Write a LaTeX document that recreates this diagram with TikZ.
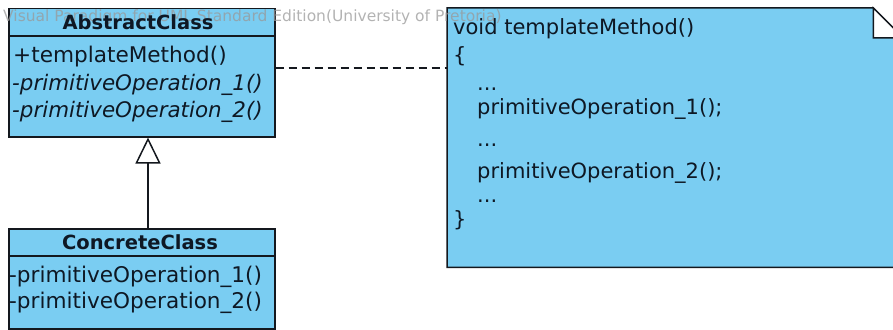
\documentclass[tikz,border=0pt]{standalone}
\usepackage{fontspec}
\setmainfont{DejaVu Sans}
\usetikzlibrary{arrows.meta}
\definecolor{umlfill}{RGB}{122,205,242}
\definecolor{umlline}{RGB}{20,24,30}
\definecolor{umltext}{RGB}{14,24,36}
\tikzset{
  classbox/.style={draw=umlline, fill=umlfill, line width=1.5pt, inner sep=0pt,
    anchor=north west, rectangle},
  member/.style={anchor=base west, inner sep=0pt, text=umltext,
    font=\fontsize{21.6}{23}\selectfont},
  abstractmember/.style={member, font=\fontsize{21.4}{23}\selectfont\itshape},
  classname/.style={anchor=base, inner sep=0pt, text=umltext,
    font=\fontsize{19.5}{22}\selectfont\bfseries},
  notetext/.style={anchor=base west, inner sep=0pt, text=umltext,
    font=\fontsize{21}{23}\selectfont},
  inherit/.style={draw=umlline, line width=1.5pt,
    -{Triangle[open, length=26pt, width=25pt, fill=white]}},
  noteline/.style={draw=umlline, line width=1.2pt, dash pattern=on 8pt off 5pt},
  watermark/.style={anchor=base west, inner sep=0pt, text=black!40, opacity=0.75,
    font=\fontsize{15.5}{17}\selectfont}
}
\begin{document}
\begin{tikzpicture}[x=1pt, y=-1pt]
\useasboundingbox (0,0) rectangle (893,329);

% ---- class boxes ----
\node[classbox, minimum width=266pt, minimum height=128pt] (abs) at (8,8) {};
\draw[umlline, line width=1.5pt] ([yshift=-28pt]abs.north west) -- ([yshift=-28pt]abs.north east);
\node[classbox, minimum width=266pt, minimum height=100pt] (conc) at (8,228) {};
\draw[umlline, line width=1.5pt] ([yshift=-28pt]conc.north west) -- ([yshift=-28pt]conc.north east);

% ---- generalization ----
\coordinate (gx) at (148,0);
\draw[inherit] (conc.north -| gx) -- (abs.south -| gx);

% ---- note with folded corner ----
\node[inner sep=0pt, minimum width=456pt, minimum height=259pt, anchor=north west] (note) at (447,8) {};
\filldraw[fill=umlfill, draw=umlline, line width=1.5pt]
  (note.north west) -- ([xshift=-30pt]note.north east) -- ([yshift=-30pt]note.north east)
  -- (note.south east) -- (note.south west) -- cycle;
\filldraw[fill=white, draw=umlline, line width=1.5pt]
  ([xshift=-30pt]note.north east) -- ([xshift=-30pt,yshift=-30pt]note.north east)
  -- ([yshift=-30pt]note.north east) -- cycle;

% ---- anchor line ----
\coordinate (ny) at (0,68);
\draw[noteline] (abs.east |- ny) -- (note.west |- ny);

% ---- watermark (under the texts) ----
\node[watermark] (wm) at (3,22) {Visual Paradigm for UML Standard Edition(University of Pretoria)};

% ---- AbstractClass texts ----
\node[classname] (absname) at (138,30) {AbstractClass};
\node[member] (abst) at (13,63) {+templateMethod()};
\node[abstractmember] (absp1) at (12,90) {-primitiveOperation\_1()};
\node[abstractmember] (absp2) at (12,117) {-primitiveOperation\_2()};

% ---- ConcreteClass texts ----
\node[classname] (concname) at (140,249) {ConcreteClass};
\node[member] (concp1) at (9,282) {-primitiveOperation\_1()};
\node[member] (concp2) at (9,308) {-primitiveOperation\_2()};

% ---- note texts ----
\node[notetext] (n1) at (453,35) {void templateMethod()};
\node[notetext] (n2) at (453,63) {\{};
\node[notetext] (n3) at (477,90) {...};
\node[notetext] (n4) at (477,114) {primitiveOperation\_1();};
\node[notetext] (n5) at (477,146) {...};
\node[notetext] (n6) at (477,178) {primitiveOperation\_2();};
\node[notetext] (n7) at (477,202) {...};
\node[notetext] (n8) at (453,226) {\}};
\end{tikzpicture}
\end{document}
